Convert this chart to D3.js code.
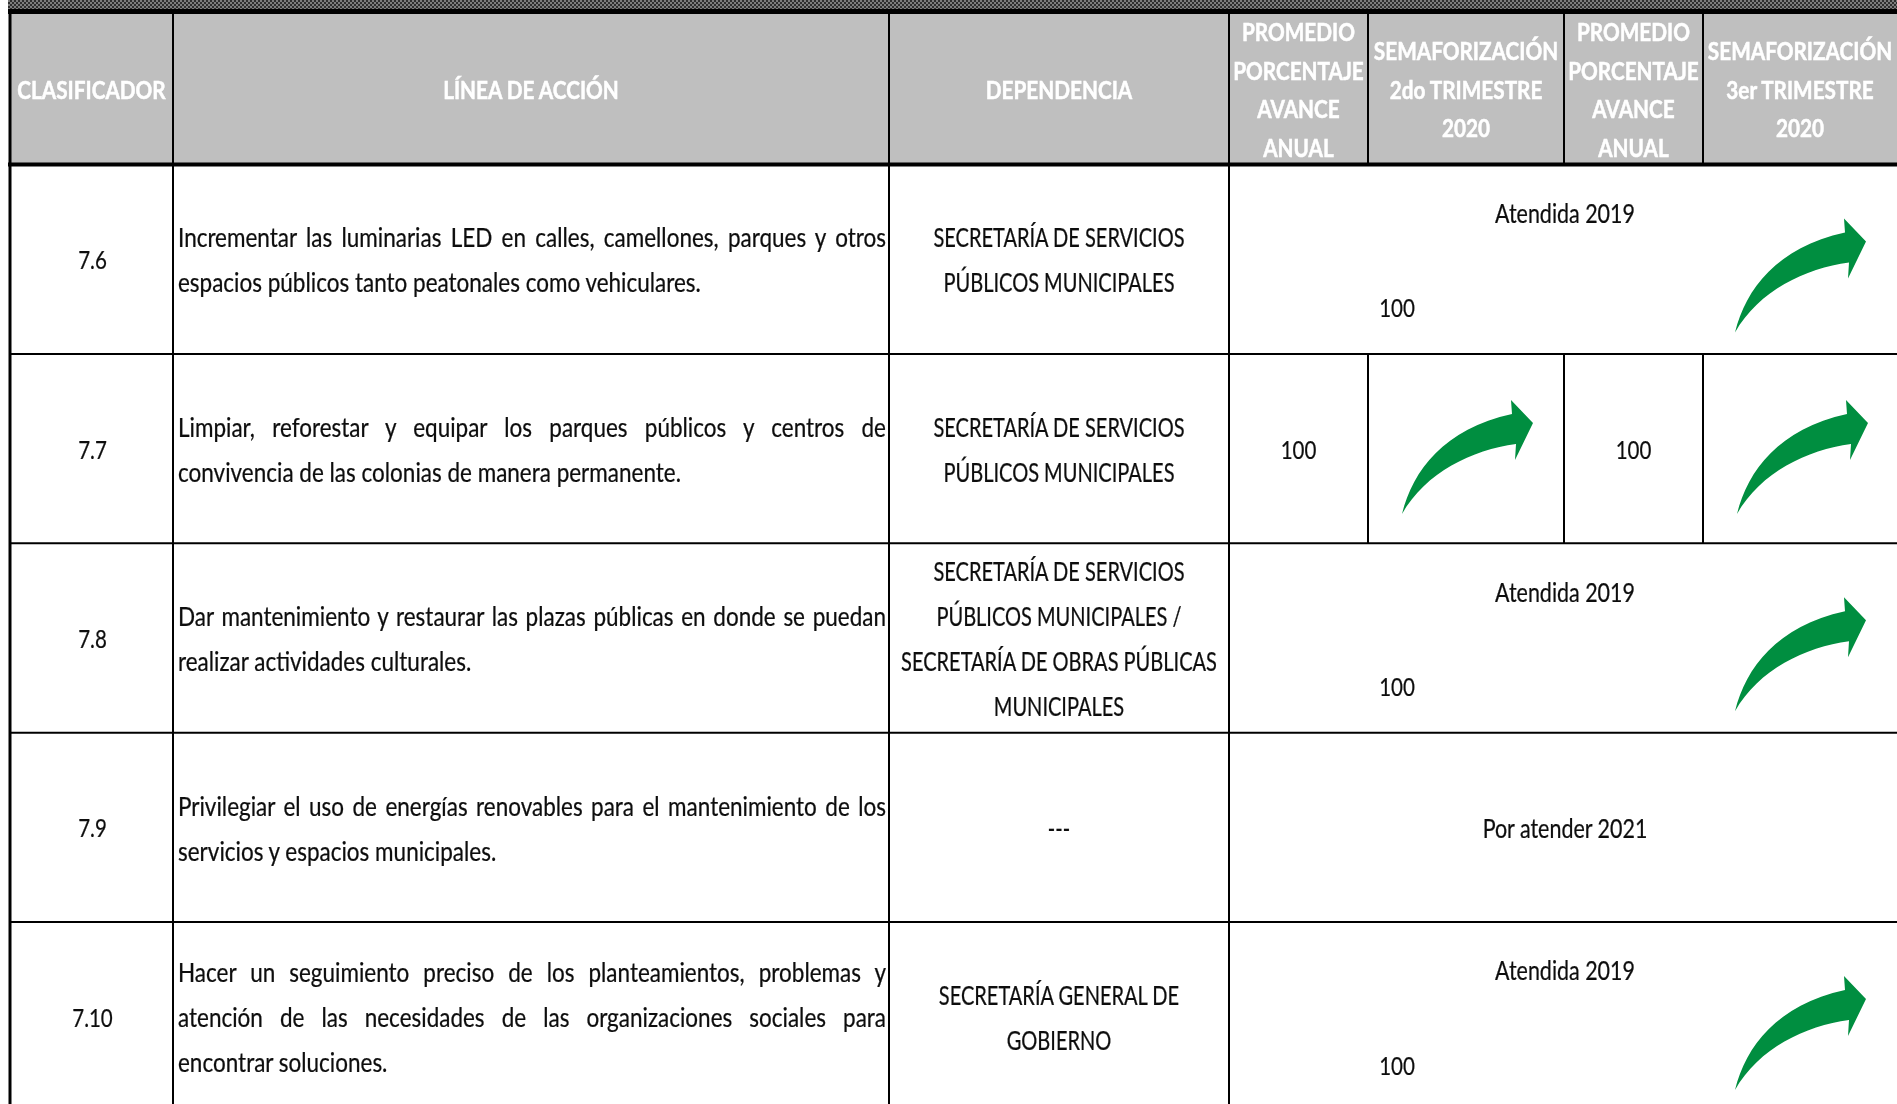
<!DOCTYPE html>
<html>
<head>
<meta charset="utf-8">
<script src="https://d3js.org/d3.v7.min.js"></script>
<style>
    html, body { margin: 0; padding: 0; background: #fff; overflow: hidden; }
    svg { display: block; }
</style>
</head>
<body>
<svg id="svg" width="1897" height="1104"></svg>
<script>
// Table content
var headerLines = [
    ["CLASIFICADOR"],
    ["LÍNEA DE ACCIÓN"],
    ["DEPENDENCIA"],
    ["PROMEDIO", "PORCENTAJE", "AVANCE", "ANUAL"],
    ["SEMAFORIZACIÓN", "2do TRIMESTRE", "2020"],
    ["PROMEDIO", "PORCENTAJE", "AVANCE", "ANUAL"],
    ["SEMAFORIZACIÓN", "3er TRIMESTRE", "2020"]
];
var codes = ["7.6", "7.7", "7.8", "7.9", "7.10"];
var actions = [
    ["Incrementar las luminarias LED en calles, camellones, parques y otros", "espacios públicos tanto peatonales como vehiculares."],
    ["Limpiar, reforestar y equipar los parques públicos y centros de", "convivencia de las colonias de manera permanente."],
    ["Dar mantenimiento y restaurar las plazas públicas en donde se puedan", "realizar actividades culturales."],
    ["Privilegiar el uso de energías renovables para el mantenimiento de los", "servicios y espacios municipales."],
    ["Hacer un seguimiento preciso de los planteamientos, problemas y", "atención de las necesidades de las organizaciones sociales para", "encontrar soluciones."]
];
var agencies = [
    ["SECRETARÍA DE SERVICIOS", "PÚBLICOS MUNICIPALES"],
    ["SECRETARÍA DE SERVICIOS", "PÚBLICOS MUNICIPALES"],
    ["SECRETARÍA DE SERVICIOS", "PÚBLICOS MUNICIPALES /", "SECRETARÍA DE OBRAS PÚBLICAS", "MUNICIPALES"],
    ["---"],
    ["SECRETARÍA GENERAL DE", "GOBIERNO"]
];
var statusText = ["Atendida 2019", null, "Atendida 2019", "Por atender 2021", "Atendida 2019"];
var average2do = [100, 100, 100, null, 100];
var average3er = [null, 100, null, null, null];

// Layout
var width = 1897, height = 1104;
var columnEdges = [10, 173, 889, 1229, 1368, 1564, 1703, 1897];
var headerTop = 12, headerBottom = 164.5, rowHeight = 189.4;
var bodyFont = "Lato", headFont = "Lato";
var codeScaleX = 0.79, actionScaleX = 0.865, agencyScaleX = 0.77, statusScaleX = 0.825, headScaleX = 0.865;
var lineStep = 45, headStep = 38.5;
var textLeft = 178, textRight = 886;

var svg = d3.select("#svg");

var y = d3.scaleBand().domain(codes).range([headerBottom, headerBottom + rowHeight * codes.length]);

function colLeft(i) { return columnEdges[i]; }
function colMid(i) { return (columnEdges[i] + columnEdges[i + 1]) / 2; }

// Draws text squeezed horizontally, the source picture is stretched vertically
function drawText(parent, str, cx, cy, opts)
{
    return parent.append("text")
        .attr("transform", `translate(${cx},${cy}) scale(${opts.scaleX},1)`)
        .attr("text-anchor", opts.anchor || "middle")
        .attr("dominant-baseline", "central")
        .attr("font-family", opts.font || bodyFont)
        .attr("font-weight", opts.weight || 400)
        .attr("font-size", opts.size || 26)
        .attr("fill", opts.fill || "#111")
        .attr("stroke", opts.fill || "#111")
        .attr("stroke-width", opts.stroke == null ? 0.25 : opts.stroke)
        .text(str);
}

// Justified line: word spacing is worked out from the measured width
function drawJustified(parent, str, cy, justify)
{
    var t = drawText(parent, str, textLeft, cy, {anchor: "start", scaleX: actionScaleX});
    if (justify)
    {
        var gaps = str.split(" ").length - 1;
        var natural = t.node().getComputedTextLength() * actionScaleX;
        t.attr("word-spacing", ((textRight - textLeft - natural) / gaps) / actionScaleX);
    }
}

var defs = svg.append("defs");
defs.append("filter").attr("id", "soft").append("feGaussianBlur").attr("stdDeviation", 0.4);
defs.append("pattern").attr("id", "hatch").attr("width", 4).attr("height", 4).attr("patternUnits", "userSpaceOnUse")
    .call(p => {
        p.append("rect").attr("width", 4).attr("height", 4).attr("fill", "#2f2f2f");
        p.append("rect").attr("width", 2).attr("height", 2).attr("fill", "#7d7d7d");
        p.append("rect").attr("x", 2).attr("y", 2).attr("width", 2).attr("height", 2).attr("fill", "#7d7d7d");
    });

// Top hatched strip
svg.append("rect").attr("x", 8).attr("y", 0).attr("width", width - 8).attr("height", 10).attr("fill", "url(#hatch)");

// Header band
svg.append("rect").attr("x", columnEdges[0]).attr("y", headerTop).attr("width", width - columnEdges[0])
    .attr("height", headerBottom - headerTop).attr("fill", "#bfbfbf");

var textLayer = svg.append("g").attr("filter", "url(#soft)");

var headerMid = (headerTop + headerBottom) / 2 + 1.5;
headerLines.forEach(function(lines, i)
{
    lines.forEach(function(line, j)
    {
        drawText(textLayer, line, colMid(i), headerMid + (j - (lines.length - 1) / 2) * headStep,
            {font: headFont, weight: 700, size: 24, fill: "#fff", scaleX: headScaleX, stroke: 0.5});
    });
});

// Rows
var arrowShape = "M0,0 C11,-44 42,-85 110,-100 L109,-114 L131,-91 L113,-54 L114,-70 C70,-64 24,-42 0,0 Z";
var mergedArrowDy = 9;

codes.forEach(function(code, r)
{
    var top = y(code), mid = top + y.bandwidth() / 2;
    var row = textLayer.append("g").attr("class", "row");

    drawText(row, code, colMid(0) + 1, mid, {scaleX: codeScaleX});

    actions[r].forEach(function(line, j)
    {
        drawJustified(row, line, mid + 0.5 + (j - (actions[r].length - 1) / 2) * lineStep, j < actions[r].length - 1);
    });

    agencies[r].forEach(function(line, j)
    {
        drawText(row, line, colMid(2), mid + 0.5 + (j - (agencies[r].length - 1) / 2) * lineStep, {scaleX: agencyScaleX});
    });

    if (statusText[r] == null)
    {
        drawText(row, average2do[r], colMid(3), mid, {scaleX: codeScaleX});
        drawText(row, average3er[r], colMid(5), mid, {scaleX: codeScaleX});
        [4, 6].forEach(function(c)
        {
            row.append("path").attr("d", arrowShape).attr("fill", "#058e3f")
                .attr("transform", `translate(${colLeft(c) + 34},${top + 160})`);
        });
    }
    else if (average2do[r] != null)
    {
        drawText(row, statusText[r], colLeft(3) + 336, top + 48, {scaleX: statusScaleX});
        drawText(row, average2do[r], colLeft(4) + 29, top + 143, {scaleX: codeScaleX});
        row.append("path").attr("d", arrowShape).attr("fill", "#058e3f")
            .attr("transform", `translate(${colLeft(6) + 32},${top + 160 + mergedArrowDy - 1})`);
    }
    else
    {
        drawText(row, statusText[r], colLeft(3) + 336, mid, {scaleX: statusScaleX});
    }
});

// Grid lines
var grid = svg.append("g").attr("stroke", "#000");
var yEdges = codes.map(c => y(c)).concat([y.range()[1]]);

yEdges.slice(1).forEach(function(v)
{
    grid.append("line").attr("x1", columnEdges[0]).attr("x2", width).attr("y1", v).attr("y2", v).attr("stroke-width", 2);
});
grid.append("line").attr("x1", 8).attr("x2", width).attr("y1", headerTop - 0.5).attr("y2", headerTop - 0.5).attr("stroke-width", 5);
grid.append("line").attr("x1", 8).attr("x2", width).attr("y1", headerBottom).attr("y2", headerBottom).attr("stroke-width", 4);
grid.append("line").attr("x1", columnEdges[0]).attr("x2", columnEdges[0]).attr("y1", headerTop).attr("y2", height).attr("stroke-width", 3);

[1, 2, 3].forEach(function(c)
{
    grid.append("line").attr("x1", colLeft(c)).attr("x2", colLeft(c)).attr("y1", headerTop).attr("y2", height).attr("stroke-width", 2);
});
[4, 5, 6].forEach(function(c)
{
    grid.append("line").attr("x1", colLeft(c)).attr("x2", colLeft(c)).attr("y1", headerTop).attr("y2", headerBottom).attr("stroke-width", 2);
    grid.append("line").attr("x1", colLeft(c)).attr("x2", colLeft(c)).attr("y1", y("7.7")).attr("y2", y("7.8")).attr("stroke-width", 2);
});
</script>
</body>
</html>
